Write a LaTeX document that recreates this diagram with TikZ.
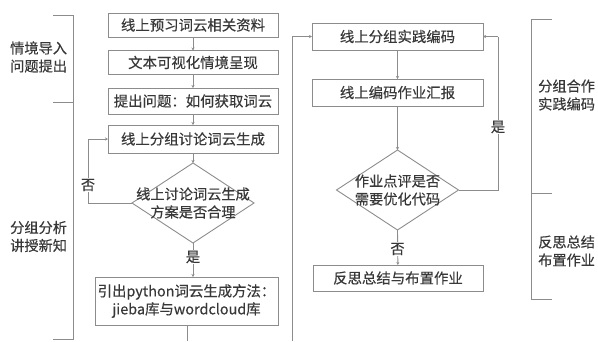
\documentclass[tikz,border=0pt]{standalone}
\usepackage{fontspec}
\setmainfont{Noto Sans CJK SC}[UprightFeatures={FakeBold=0.35}]
\usetikzlibrary{shapes.geometric,arrows.meta}
\definecolor{ln}{HTML}{8C8C8C}
\definecolor{tx}{HTML}{383838}
\tikzset{
  box/.style={draw=ln,line width=0.9pt,rectangle,inner sep=0pt,outer sep=0pt,text=tx,align=center,font=\fontsize{14.4}{18}\selectfont},
  dia/.style={draw=ln,line width=0.9pt,diamond,inner sep=0pt,outer sep=0pt,minimum width=122pt,minimum height=80pt},
  dtext/.style={text=tx,align=center,font=\fontsize{14.2}{18}\selectfont,inner sep=0pt},
  lab/.style={text=tx,align=left,font=\fontsize{14.2}{18}\selectfont,inner sep=0pt},
  yn/.style={text=tx,fill=white,font=\fontsize{14.2}{16}\selectfont,inner sep=1pt},
  conn/.style={draw=ln,line width=0.9pt},
  arr/.style={conn,-{Stealth[length=3pt,width=3pt]}},
  brk/.style={draw=ln,line width=1pt}
}
\begin{document}
\begin{tikzpicture}[x=1pt,y=-1pt]
\useasboundingbox (0,0) rectangle (598,341);
% left column
\node[box,minimum width=170pt,minimum height=24pt] (b1) at (193,25) {线上预习词云相关资料};
\node[box,minimum width=170pt,minimum height=24pt] (b2) at (193,62.5) {文本可视化情境呈现};
\node[box,minimum width=170pt,minimum height=26pt] (b3) at (193,101) {提出问题：如何获取词云};
\node[box,minimum width=170pt,minimum height=28pt] (b4) at (193,139) {线上分组讨论词云生成};
\node[dia] (d1) at (193,203) {};
\node[dtext] (d1t) at (d1.center) {线上讨论词云生成\\方案是否合理};
\node[box,minimum width=183pt,minimum height=48pt] (b5) at (186.5,301) {引出python词云生成方法：\\jieba库与wordcloud库};
\coordinate (b5top) at (193,277);
\coordinate (lb1) at (88,203);
\coordinate (lb2) at (88,139);
\coordinate (bot1) at (187,341);
\coordinate (bot2) at (292,341);
\coordinate (up2) at (292,36.5);
% right column
\node[box,minimum width=171pt,minimum height=27pt] (b6) at (397.5,36.5) {线上分组实践编码};
\node[box,minimum width=171pt,minimum height=27pt] (b7) at (397.5,92.5) {线上编码作业汇报};
\node[dia] (d2) at (397.5,190) {};
\node[dtext] (d2t) at (d2.center) {作业点评是否\\需要优化代码};
\node[box,minimum width=170pt,minimum height=26pt] (b8) at (398,278) {反思总结与布置作业};
\coordinate (rb1) at (498,190);
\coordinate (rb2) at (498,36.5);
% connectors left
\draw[arr] (b1) -- (b2);
\draw[arr] (b2) -- (b3);
\draw[arr] (b3) -- (b4);
\draw[arr] (b4) -- (d1);
\draw[conn] (d1.west) -- (lb1) -- (lb2);
\draw[arr] (lb2) -- (b4.west);
\node[yn] (no1) at (88,185) {否};
\draw[arr] (d1.south) -- (b5top);
\node[yn] (yes1) at (193,257) {是};
\draw[conn] (b5.south -| bot1) -- (bot1);
\draw[conn] (bot2) -- (up2);
\draw[arr] (up2) -- (b6.west);
% connectors right
\draw[arr] (b6) -- (b7);
\draw[arr] (b7) -- (d2);
\draw[conn] (d2.east) -- (rb1) -- (rb2);
\draw[arr] (rb2) -- (b6.east);
\node[yn] (yes2) at (498,127) {是};
\draw[arr] (d2.south) -- (b8);
\node[yn] (no2) at (397.5,249) {否};
% brackets
\coordinate (L1) at (53,15);
\coordinate (L1b) at (73,15);
\coordinate (L2) at (53,102);
\coordinate (L2b) at (73,102);
\coordinate (L3) at (53,339.5);
\coordinate (L3b) at (73,339.5);
\draw[brk] (L1) -- (L1b) -- (L3b) -- (L3);
\draw[brk] (L2) -- (L2b);
\coordinate (R1) at (552,19);
\coordinate (R1b) at (531,19);
\coordinate (R2) at (552,193);
\coordinate (R2b) at (531,193);
\coordinate (R3) at (552,299);
\coordinate (R3b) at (531,299);
\draw[brk] (R1) -- (R1b) -- (R3b) -- (R3);
\draw[brk] (R2) -- (R2b);
% side labels
\node[lab,anchor=west] (t1) at (10,57) {情境导入\\问题提出};
\node[lab,anchor=west] (t2) at (10,236.5) {分组分析\\讲授新知};
\node[lab,anchor=west] (t3) at (538,95) {分组合作\\实践编码};
\node[lab,anchor=west] (t4) at (538,251) {反思总结\\布置作业};
\end{tikzpicture}
\end{document}
